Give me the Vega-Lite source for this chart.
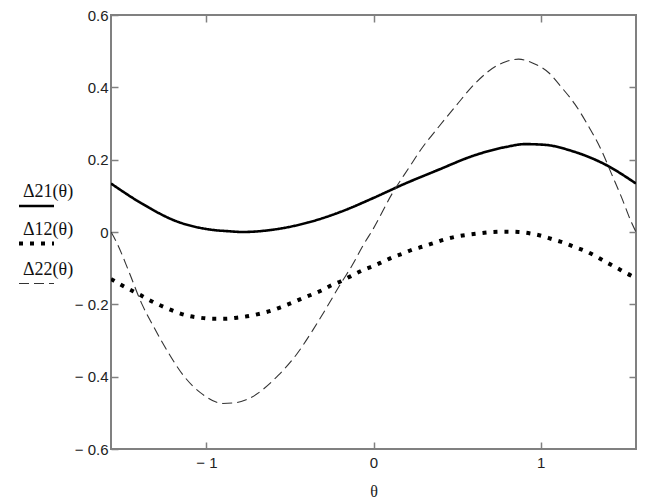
{
  "$schema": "https://vega.github.io/schema/vega-lite/v6.json",
  "autosize": "none",
  "width": 525,
  "height": 434,
  "padding": {"left": 111, "top": 15, "right": 14, "bottom": 55},
  "background": "white",
  "config": {
    "view": {"stroke": "#808080", "strokeWidth": 2},
    "axis": {
      "domain": false,
      "grid": false,
      "tickColor": "#808080",
      "tickWidth": 1.5,
      "tickSize": -7,
      "labelFont": "Liberation Sans",
      "labelFontSize": 15,
      "labelColor": "#222",
      "labelFlush": false,
      "labelOverlap": false,
      "titleFont": "Liberation Serif",
      "titleFontSize": 16,
      "titleFontWeight": "normal",
      "titleColor": "#222"
    },
    "legend": {
      "orient": "none",
      "legendX": -94,
      "legendY": 172,
      "symbolType": "stroke",
      "symbolSize": 1225,
      "labelFont": "Liberation Serif",
      "labelFontSize": 18,
      "labelColor": "#111",
      "labelOffset": -33,
      "labelBaseline": "bottom",
      "rowPadding": 8,
      "title": null
    }
  },
  "data": {
    "values": [
      {"theta": -1.5708, "series": "Δ21(θ)", "value": 0.134},
      {"theta": -1.38, "series": "Δ21(θ)", "value": 0.077},
      {"theta": -1.181, "series": "Δ21(θ)", "value": 0.030},
      {"theta": -0.982, "series": "Δ21(θ)", "value": 0.007},
      {"theta": -0.863, "series": "Δ21(θ)", "value": 0.002},
      {"theta": -0.784, "series": "Δ21(θ)", "value": 0.000},
      {"theta": -0.593, "series": "Δ21(θ)", "value": 0.007},
      {"theta": -0.394, "series": "Δ21(θ)", "value": 0.026},
      {"theta": -0.195, "series": "Δ21(θ)", "value": 0.056},
      {"theta": 0.004, "series": "Δ21(θ)", "value": 0.095},
      {"theta": 0.175, "series": "Δ21(θ)", "value": 0.131},
      {"theta": 0.394, "series": "Δ21(θ)", "value": 0.173},
      {"theta": 0.592, "series": "Δ21(θ)", "value": 0.210},
      {"theta": 0.791, "series": "Δ21(θ)", "value": 0.235},
      {"theta": 0.908, "series": "Δ21(θ)", "value": 0.243},
      {"theta": 1.027, "series": "Δ21(θ)", "value": 0.241},
      {"theta": 1.187, "series": "Δ21(θ)", "value": 0.224},
      {"theta": 1.385, "series": "Δ21(θ)", "value": 0.187},
      {"theta": 1.5708, "series": "Δ21(θ)", "value": 0.134},

      {"theta": -1.5708, "series": "Δ12(θ)", "value": -0.130},
      {"theta": -1.519, "series": "Δ12(θ)", "value": -0.144},
      {"theta": -1.463, "series": "Δ12(θ)", "value": -0.158},
      {"theta": -1.404, "series": "Δ12(θ)", "value": -0.172},
      {"theta": -1.35, "series": "Δ12(θ)", "value": -0.186},
      {"theta": -1.29, "series": "Δ12(θ)", "value": -0.200},
      {"theta": -1.231, "series": "Δ12(θ)", "value": -0.212},
      {"theta": -1.171, "series": "Δ12(θ)", "value": -0.223},
      {"theta": -1.106, "series": "Δ12(θ)", "value": -0.232},
      {"theta": -1.038, "series": "Δ12(θ)", "value": -0.237},
      {"theta": -0.962, "series": "Δ12(θ)", "value": -0.240},
      {"theta": -0.889, "series": "Δ12(θ)", "value": -0.240},
      {"theta": -0.817, "series": "Δ12(θ)", "value": -0.237},
      {"theta": -0.742, "series": "Δ12(θ)", "value": -0.232},
      {"theta": -0.672, "series": "Δ12(θ)", "value": -0.225},
      {"theta": -0.608, "series": "Δ12(θ)", "value": -0.217},
      {"theta": -0.549, "series": "Δ12(θ)", "value": -0.207},
      {"theta": -0.489, "series": "Δ12(θ)", "value": -0.196},
      {"theta": -0.423, "series": "Δ12(θ)", "value": -0.183},
      {"theta": -0.364, "series": "Δ12(θ)", "value": -0.172},
      {"theta": -0.304, "series": "Δ12(θ)", "value": -0.160},
      {"theta": -0.255, "series": "Δ12(θ)", "value": -0.148},
      {"theta": -0.195, "series": "Δ12(θ)", "value": -0.136},
      {"theta": -0.135, "series": "Δ12(θ)", "value": -0.122},
      {"theta": -0.066, "series": "Δ12(θ)", "value": -0.106},
      {"theta": 0.0, "series": "Δ12(θ)", "value": -0.094},
      {"theta": 0.066, "series": "Δ12(θ)", "value": -0.080},
      {"theta": 0.119, "series": "Δ12(θ)", "value": -0.069},
      {"theta": 0.179, "series": "Δ12(θ)", "value": -0.059},
      {"theta": 0.239, "series": "Δ12(θ)", "value": -0.048},
      {"theta": 0.298, "series": "Δ12(θ)", "value": -0.040},
      {"theta": 0.358, "series": "Δ12(θ)", "value": -0.031},
      {"theta": 0.423, "series": "Δ12(θ)", "value": -0.021},
      {"theta": 0.493, "series": "Δ12(θ)", "value": -0.013},
      {"theta": 0.572, "series": "Δ12(θ)", "value": -0.007},
      {"theta": 0.642, "series": "Δ12(θ)", "value": -0.003},
      {"theta": 0.711, "series": "Δ12(θ)", "value": 0.000},
      {"theta": 0.787, "series": "Δ12(θ)", "value": 0.001},
      {"theta": 0.868, "series": "Δ12(θ)", "value": 0.000},
      {"theta": 0.938, "series": "Δ12(θ)", "value": -0.004},
      {"theta": 1.008, "series": "Δ12(θ)", "value": -0.011},
      {"theta": 1.071, "series": "Δ12(θ)", "value": -0.020},
      {"theta": 1.141, "series": "Δ12(θ)", "value": -0.030},
      {"theta": 1.202, "series": "Δ12(θ)", "value": -0.041},
      {"theta": 1.27, "series": "Δ12(θ)", "value": -0.053},
      {"theta": 1.33, "series": "Δ12(θ)", "value": -0.067},
      {"theta": 1.395, "series": "Δ12(θ)", "value": -0.084},
      {"theta": 1.459, "series": "Δ12(θ)", "value": -0.100},
      {"theta": 1.518, "series": "Δ12(θ)", "value": -0.115},
      {"theta": 1.5708, "series": "Δ12(θ)", "value": -0.127},

      {"theta": -1.5708, "series": "Δ22(θ)", "value": 0.0},
      {"theta": -1.539, "series": "Δ22(θ)", "value": -0.027},
      {"theta": -1.465, "series": "Δ22(θ)", "value": -0.108},
      {"theta": -1.389, "series": "Δ22(θ)", "value": -0.196},
      {"theta": -1.312, "series": "Δ22(θ)", "value": -0.265},
      {"theta": -1.231, "series": "Δ22(θ)", "value": -0.331},
      {"theta": -1.137, "series": "Δ22(θ)", "value": -0.397},
      {"theta": -1.022, "series": "Δ22(θ)", "value": -0.449},
      {"theta": -0.903, "series": "Δ22(θ)", "value": -0.474},
      {"theta": -0.823, "series": "Δ22(θ)", "value": -0.472},
      {"theta": -0.762, "series": "Δ22(θ)", "value": -0.464},
      {"theta": -0.569, "series": "Δ22(θ)", "value": -0.396},
      {"theta": -0.463, "series": "Δ22(θ)", "value": -0.340},
      {"theta": -0.364, "series": "Δ22(θ)", "value": -0.272},
      {"theta": -0.278, "series": "Δ22(θ)", "value": -0.207},
      {"theta": -0.199, "series": "Δ22(θ)", "value": -0.145},
      {"theta": -0.125, "series": "Δ22(θ)", "value": -0.090},
      {"theta": -0.066, "series": "Δ22(θ)", "value": -0.040},
      {"theta": 0.0, "series": "Δ22(θ)", "value": 0.010},
      {"theta": 0.109, "series": "Δ22(θ)", "value": 0.104},
      {"theta": 0.211, "series": "Δ22(θ)", "value": 0.177},
      {"theta": 0.284, "series": "Δ22(θ)", "value": 0.228},
      {"theta": 0.387, "series": "Δ22(θ)", "value": 0.289},
      {"theta": 0.497, "series": "Δ22(θ)", "value": 0.351},
      {"theta": 0.606, "series": "Δ22(θ)", "value": 0.410},
      {"theta": 0.735, "series": "Δ22(θ)", "value": 0.459},
      {"theta": 0.791, "series": "Δ22(θ)", "value": 0.471},
      {"theta": 0.868, "series": "Δ22(θ)", "value": 0.478},
      {"theta": 0.948, "series": "Δ22(θ)", "value": 0.468},
      {"theta": 1.047, "series": "Δ22(θ)", "value": 0.441},
      {"theta": 1.127, "series": "Δ22(θ)", "value": 0.399},
      {"theta": 1.206, "series": "Δ22(θ)", "value": 0.353},
      {"theta": 1.286, "series": "Δ22(θ)", "value": 0.293},
      {"theta": 1.366, "series": "Δ22(θ)", "value": 0.224},
      {"theta": 1.425, "series": "Δ22(θ)", "value": 0.160},
      {"theta": 1.485, "series": "Δ22(θ)", "value": 0.095},
      {"theta": 1.544, "series": "Δ22(θ)", "value": 0.026},
      {"theta": 1.5708, "series": "Δ22(θ)", "value": 0.0}
    ]
  },
  "layer": [
    {
      "mark": {"type": "line", "interpolate": "monotone", "strokeCap": "butt", "clip": true},
      "encoding": {
        "x": {
          "field": "theta", "type": "quantitative",
          "scale": {"domain": [-1.5708, 1.5708], "nice": false, "zero": false},
          "axis": {
            "orient": "bottom", "values": [-1, 0, 1], "title": "θ",
            "labelPadding": 13, "titlePadding": 13,
            "labelExpr": "datum.value < 0 ? '− ' + format(-datum.value, 'd') : format(datum.value, 'd')"
          }
        },
        "y": {
          "field": "value", "type": "quantitative",
          "scale": {"domain": [-0.6, 0.6], "nice": false, "zero": false},
          "axis": {
            "orient": "left", "values": [-0.6, -0.4, -0.2, 0, 0.2, 0.4, 0.6], "title": null,
            "labelPadding": 10,
            "labelExpr": "datum.value == 0 ? '0' : (datum.value < 0 ? '− ' + format(-datum.value, '.1f') : format(datum.value, '.1f'))"
          }
        },
        "color": {
          "field": "series", "type": "nominal",
          "scale": {"domain": ["Δ21(θ)", "Δ12(θ)", "Δ22(θ)"], "range": ["#000000", "#000000", "#333333"]},
          "legend": {"encode": {
            "labels": {"update": {"dy": {"value": -5}}},
            "symbols": {"update": {"strokeDash": {"signal": "datum.value === 'Δ12(θ)' ? [4, 7] : [1, 0]"}}}
          }}
        },
        "strokeDash": {
          "field": "series", "type": "nominal",
          "scale": {"domain": ["Δ21(θ)", "Δ12(θ)", "Δ22(θ)"], "range": [[1, 0], [4, 7], [10, 5]]},
          "legend": {"encode": {
            "labels": {"update": {"dy": {"value": -5}}},
            "symbols": {"update": {"strokeDash": {"signal": "datum.value === 'Δ12(θ)' ? [4, 7] : [1, 0]"}}}
          }}
        },
        "strokeWidth": {
          "field": "series", "type": "nominal",
          "scale": {"type": "ordinal", "domain": ["Δ21(θ)", "Δ12(θ)", "Δ22(θ)"], "range": [2.6, 4, 1.1]},
          "legend": {"encode": {
            "labels": {"update": {"dy": {"value": -5}}},
            "symbols": {"update": {"strokeDash": {"signal": "datum.value === 'Δ12(θ)' ? [4, 7] : [1, 0]"}}}
          }}
        }
      }
    },
    {
      "mark": {"type": "line", "strokeOpacity": 0},
      "encoding": {
        "x": {
          "field": "theta", "type": "quantitative",
          "axis": {"orient": "top", "values": [-1, 0, 1], "labels": false, "title": null}
        },
        "y": {
          "field": "value", "type": "quantitative",
          "axis": {"orient": "right", "values": [-0.4, -0.2, 0, 0.2, 0.4], "labels": false, "title": null}
        },
        "detail": {"field": "series"}
      }
    }
  ],
  "resolve": {"axis": {"x": "independent", "y": "independent"}}
}
